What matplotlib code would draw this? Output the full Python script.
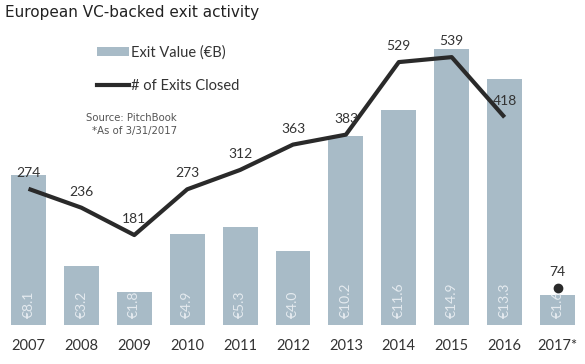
import matplotlib
matplotlib.use("Agg")
import matplotlib.pyplot as plt
from matplotlib.patches import Patch
from matplotlib.lines import Line2D

years = ["2007", "2008", "2009", "2010", "2011", "2012", "2013", "2014", "2015", "2016", "2017*"]
exit_value = [8.1, 3.2, 1.8, 4.9, 5.3, 4.0, 10.2, 11.6, 14.9, 13.3, 1.6]
exits_closed = [274, 236, 181, 273, 312, 363, 383, 529, 539, 418, 74]

BAR = "#a8bbc7"
LINE = "#2a2a2a"
TXT = "#333333"

plt.rcParams['font.family'] = ['Lato', 'DejaVu Sans']

fig = plt.figure(figsize=(5.85, 3.64), dpi=100)
ax = fig.add_axes([0, 39 / 364, 1, 325 / 364])
ax2 = ax.twinx()

x = list(range(len(years)))
ax.bar(x, exit_value, width=0.66, color=BAR, zorder=1)
for xi, v in zip(x, exit_value):
    ax.text(xi, 0.4, f"€{v}", rotation=90, ha='center', va='bottom',
            color="#e4eaef", fontsize=10)

# line for full years, lone dot for partial 2017
ax2.plot(x[:-1], exits_closed[:-1], color=LINE, lw=3, solid_capstyle='butt', zorder=3)
ax2.plot([x[-1]], [exits_closed[-1]], 'o', color=LINE, ms=6)
for xi, v in zip(x, exits_closed):
    ax2.annotate(str(v), (xi, v), xytext=(0, 11.5), textcoords='offset points',
                 ha='center', va='center', fontsize=10, color=TXT)

ax.set_xlim(-28.5 / 52.9, (585 - 28.5) / 52.9)
ax.set_ylim(0, 325 / 18.5)
ax2.set_ylim(0, 325 / 0.497)
for a in (ax, ax2):
    a.set_yticks([])
    for s in a.spines.values():
        s.set_visible(False)
ax.set_xticks(x)
ax.set_xticklabels(years, fontsize=10.5, color=TXT)
ax.tick_params(axis='x', length=0, pad=10)
ax.set_zorder(ax2.get_zorder() - 1)
ax2.patch.set_visible(False)

fig.text(5 / 585, 1 - 12 / 364, "European VC-backed exit activity", fontsize=11,
         color="#222222", va='center', ha='left', family=['DejaVu Sans'])

handles = [Patch(facecolor=BAR, edgecolor='none'),
           Line2D([0], [0], color=LINE, lw=3)]
ax.legend(handles, ["Exit Value (€B)", "# of Exits Closed"], loc='upper left',
          bbox_to_anchor=(84 / 585, 1 - 32 / 325), frameon=False, fontsize=10.5,
          handlelength=2.2, handleheight=0.6, handletextpad=0.1, labelspacing=1.35,
          labelcolor=TXT)

fig.text(177 / 585, 1 - 118 / 364, "Source: PitchBook", fontsize=7.3, color="#555555",
         ha='right', va='center', family=['DejaVu Sans'])
fig.text(177 / 585, 1 - 131 / 364, "*As of 3/31/2017", fontsize=7.3, color="#555555",
         ha='right', va='center', family=['DejaVu Sans'])

fig.savefig("out.png", dpi=100)
